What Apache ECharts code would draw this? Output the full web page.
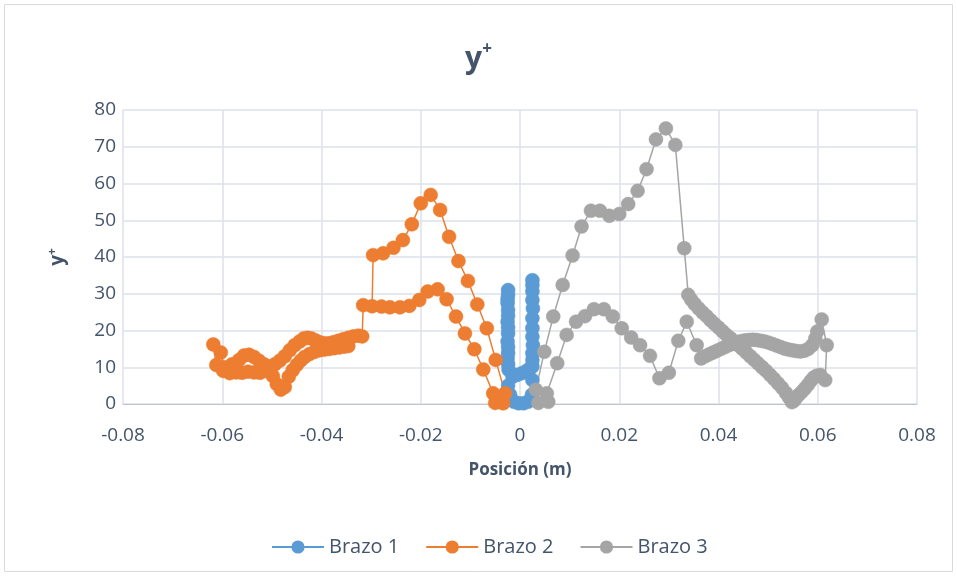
<!DOCTYPE html>
<html>
<head>
<meta charset="utf-8">
<script src="https://cdn.jsdelivr.net/npm/echarts@6/dist/echarts.min.js"></script>
<style>
  html, body { margin: 0; padding: 0; background: #ffffff; }
  #chart { width: 957px; height: 576px; }
</style>
</head>
<body>
<div id="chart"></div>
<script>
// Tick labels / axis ranges
const xTicks = [-0.08, -0.06, -0.04, -0.02, 0, 0.02, 0.04, 0.06, 0.08];
const yTicks = [0, 10, 20, 30, 40, 50, 60, 70, 80];
const seriesNames = ['Brazo 1', 'Brazo 2', 'Brazo 3'];

// Brazo 1: posición (m) and y+
const brazo1X = [0.0025, 0.0024, 0.0016, 0.0007, -0.0003, -0.0012, -0.0020, -0.0024,
  -0.0024, -0.0024, -0.0025, -0.0025, -0.0024, -0.0024, -0.0025, -0.0024, -0.0024, -0.0025,
  -0.0024, -0.0024, -0.0025, -0.0024, -0.0023,
  -0.0015, -0.0006, 0.0004, 0.0013, 0.0021,
  0.0025, 0.0025, 0.0025, 0.0026, 0.0025, 0.0025, 0.0025, 0.0026, 0.0025, 0.0025, 0.0025, 0.0025];
const brazo1Y = [6.5, 2.5, 0.6, 0.2, 0.2, 0.6, 2.5, 5.0,
  31.0, 29.7, 28.5, 27.4, 25.6, 24.0, 22.4, 20.8, 19.2, 17.0,
  15.5, 13.8, 12.4, 10.8, 9.3,
  7.4, 7.9, 8.4, 9.0, 9.8,
  10.2, 12.0, 13.8, 16.0, 18.3, 20.6, 23.3, 26.0, 28.3, 30.6, 32.4, 33.7];

// Brazo 2
const brazo2X = [-0.0346, -0.0354, -0.0364, -0.0374, -0.0384, -0.0394, -0.0404, -0.0414, -0.0424, -0.0434,
  -0.0442, -0.0450, -0.0458, -0.0466, -0.0474, -0.0482, -0.0490, -0.0498, -0.0506, -0.0516,
  -0.0526, -0.0536, -0.0546, -0.0556, -0.0566, -0.0580, -0.0596, -0.0603, -0.0618, -0.0612, -0.0598,
  -0.0585, -0.0572, -0.0560, -0.0548, -0.0536, -0.0524, -0.0514, -0.0504, -0.0494, -0.0484,
  -0.0474, -0.0464, -0.0454, -0.0444, -0.0436, -0.0428, -0.0420, -0.0412, -0.0404, -0.0396,
  -0.0386, -0.0376, -0.0366, -0.0356, -0.0346, -0.0336, -0.0326, -0.0318,
  -0.0316, -0.0298, -0.0296, -0.0276, -0.0255, -0.0236, -0.0218, -0.0200, -0.0180, -0.0161,
  -0.0143, -0.0124, -0.0105, -0.0086, -0.0067, -0.0049, -0.0030, -0.0034, -0.0050, -0.0054,
  -0.0074, -0.0092, -0.0111, -0.0129, -0.0148, -0.0166, -0.0186, -0.0203, -0.0223, -0.0242,
  -0.0262, -0.0279];
const brazo2Y = [15.8, 15.6, 15.4, 15.2, 15.0, 14.8, 14.6, 14.2, 13.6, 12.8,
  11.8, 10.6, 9.2, 7.4, 4.6, 3.9, 5.4, 7.6, 9.6, 10.8,
  11.8, 12.8, 13.4, 13.2, 12.0, 10.8, 10.0, 14.0, 16.2, 10.6, 9.0,
  8.4, 8.6, 8.5, 8.8, 8.6, 8.5, 9.0, 9.8, 10.8, 11.8,
  13.0, 14.6, 16.0, 17.0, 17.8, 18.0, 17.8, 17.3, 16.8, 16.5,
  16.5, 16.8, 17.2, 17.6, 18.0, 18.4, 18.6, 18.4,
  26.9, 26.6, 40.5, 41.0, 42.5, 44.6, 48.9, 54.6, 56.9, 52.8,
  45.5, 38.9, 33.5, 27.1, 20.6, 12.0, 2.9, 0.2, 0.3, 2.9,
  9.4, 14.9, 19.2, 23.8, 28.5, 31.2, 30.6, 28.3, 26.7, 26.3,
  26.3, 26.5];

// Brazo 3
const brazo3X = [0.0037, 0.0057, 0.0054, 0.0075, 0.0094, 0.0113, 0.0131, 0.0149, 0.0169, 0.0187,
  0.0205, 0.0224, 0.0242, 0.0262, 0.0281, 0.0300, 0.0319, 0.0336, 0.0356, 0.0365,
  0.0373, 0.0381, 0.0389, 0.0397, 0.0405, 0.0413, 0.0421, 0.0429, 0.0437, 0.0445,
  0.0453, 0.0461, 0.0469, 0.0477, 0.0485, 0.0493, 0.0501, 0.0509, 0.0517, 0.0525,
  0.0533, 0.0541, 0.0549, 0.0557, 0.0565, 0.0573, 0.0581, 0.0589, 0.0595, 0.0599,
  0.0608, 0.0618, 0.0615, 0.0605,
  0.0598, 0.0592, 0.0586, 0.0580, 0.0574, 0.0568, 0.0562, 0.0556, 0.0552, 0.0548,
  0.0542, 0.0536, 0.0528, 0.0520, 0.0512, 0.0504, 0.0496, 0.0488, 0.0480, 0.0472,
  0.0464, 0.0456, 0.0448, 0.0440, 0.0432, 0.0424, 0.0416, 0.0408, 0.0400, 0.0392,
  0.0384, 0.0376, 0.0368, 0.0360, 0.0352, 0.0345, 0.0339,
  0.0331, 0.0313, 0.0294, 0.0274, 0.0255, 0.0237, 0.0218, 0.0200, 0.0180, 0.0161,
  0.0143, 0.0124, 0.0106, 0.0086, 0.0067, 0.0049, 0.0032];
const brazo3Y = [0.3, 0.6, 2.9, 11.1, 18.8, 22.4, 23.9, 25.8, 25.8, 23.8,
  20.6, 18.1, 16.0, 13.1, 7.0, 8.5, 17.2, 22.4, 16.0, 12.4,
  13.0, 13.5, 14.0, 14.5, 15.0, 15.5, 16.0, 16.4, 16.8, 17.1,
  17.3, 17.4, 17.5, 17.4, 17.2, 17.0, 16.7, 16.3, 15.9, 15.5,
  15.1, 14.8, 14.6, 14.4, 14.3, 14.5, 15.0, 16.0, 17.8, 19.7,
  23.0, 16.0, 6.5, 7.9,
  7.7, 7.2, 6.3, 5.2, 4.2, 3.3, 2.5, 1.6, 0.9, 0.5,
  1.8, 3.0, 4.4, 5.6, 6.8, 7.9, 9.0, 10.0, 11.0, 12.0,
  13.0, 14.0, 15.0, 16.0, 17.0, 17.9, 18.8, 19.8, 20.8, 21.8,
  22.8, 23.9, 24.9, 26.0, 27.2, 28.4, 29.7,
  42.4, 70.5, 75.0, 72.0, 63.9, 58.0, 54.4, 51.7, 51.2, 52.6,
  52.6, 48.3, 40.4, 32.4, 23.8, 14.2, 3.9];

const colors = ['#5B9BD5', '#ED7D31', '#A5A5A5'];
const textColor = '#44546A';
const fontFamily = '"Open Sans", "Liberation Sans", sans-serif';

function pairs(xs, ys) {
  return xs.map((x, i) => [x, ys[i]]);
}

const chart = echarts.init(document.getElementById('chart'), null, { renderer: 'canvas' });

function lineSeries(name, data, color) {
  return {
    name: name,
    type: 'line',
    data: data,
    symbol: 'circle',
    symbolSize: 14,
    showAllSymbol: true,
    color: color,
    lineStyle: { color: color, width: 1.5 },
    itemStyle: { color: color, borderColor: color, borderWidth: 0.5 },
    emphasis: { disabled: true },
    animation: false
  };
}

chart.setOption({
  animation: false,
  backgroundColor: '#ffffff',
  textStyle: { fontFamily: fontFamily },
  graphic: [{
    type: 'rect',
    shape: { x: 4.5, y: 4.5, width: 948, height: 567 },
    style: { fill: 'none', stroke: '#D9D9D9', lineWidth: 1 },
    silent: true
  }],
  title: {
    text: '{y|y}{p|+}',
    left: 'center',
    top: 36,
    textStyle: {
      rich: {
        y: { fontSize: 30, fontWeight: 'bold', color: textColor, fontFamily: fontFamily, lineHeight: 36 },
        p: { fontSize: 17, fontWeight: 'bold', color: textColor, fontFamily: fontFamily, verticalAlign: 'top', lineHeight: 36 }
      }
    }
  },
  legend: {
    data: seriesNames,
    left: 266,
    top: 532,
    itemWidth: 52,
    itemHeight: 14,
    itemGap: 26,
    textStyle: { fontSize: 20, color: textColor, fontFamily: fontFamily }
  },
  grid: { left: 123, right: 40, top: 110, bottom: 172 },
  xAxis: {
    type: 'value',
    min: xTicks[0],
    max: xTicks[xTicks.length - 1],
    interval: 0.02,
    name: 'Posición (m)',
    nameLocation: 'middle',
    nameGap: 58,
    nameTextStyle: { fontSize: 17, fontWeight: 'bold', color: textColor, fontFamily: fontFamily },
    axisLine: { show: true, onZero: false, lineStyle: { color: '#BFC5D0', width: 1 } },
    axisTick: { show: false },
    axisLabel: { fontSize: 19, color: textColor, margin: 22, fontFamily: fontFamily },
    splitLine: { show: true, lineStyle: { color: '#DDE2EA', width: 1.5 } }
  },
  yAxis: {
    type: 'value',
    min: yTicks[0],
    max: yTicks[yTicks.length - 1],
    interval: 10,
    name: '{y|y}{p|+}',
    nameLocation: 'middle',
    nameGap: 54,
    nameRotate: 90,
    nameTextStyle: {
      rich: {
        y: { fontSize: 19, fontWeight: 'bold', color: textColor, fontFamily: fontFamily, lineHeight: 22 },
        p: { fontSize: 12, fontWeight: 'bold', color: textColor, fontFamily: fontFamily, verticalAlign: 'top', lineHeight: 22 }
      }
    },
    axisLine: { show: false },
    axisTick: { show: false },
    axisLabel: { fontSize: 19, color: textColor, margin: 7, fontFamily: fontFamily },
    splitLine: { show: true, lineStyle: { color: '#DDE2EA', width: 1.5 } }
  },
  series: [
    lineSeries(seriesNames[0], pairs(brazo1X, brazo1Y), colors[0]),
    lineSeries(seriesNames[1], pairs(brazo2X, brazo2Y), colors[1]),
    lineSeries(seriesNames[2], pairs(brazo3X, brazo3Y), colors[2])
  ]
});
</script>
</body>
</html>
